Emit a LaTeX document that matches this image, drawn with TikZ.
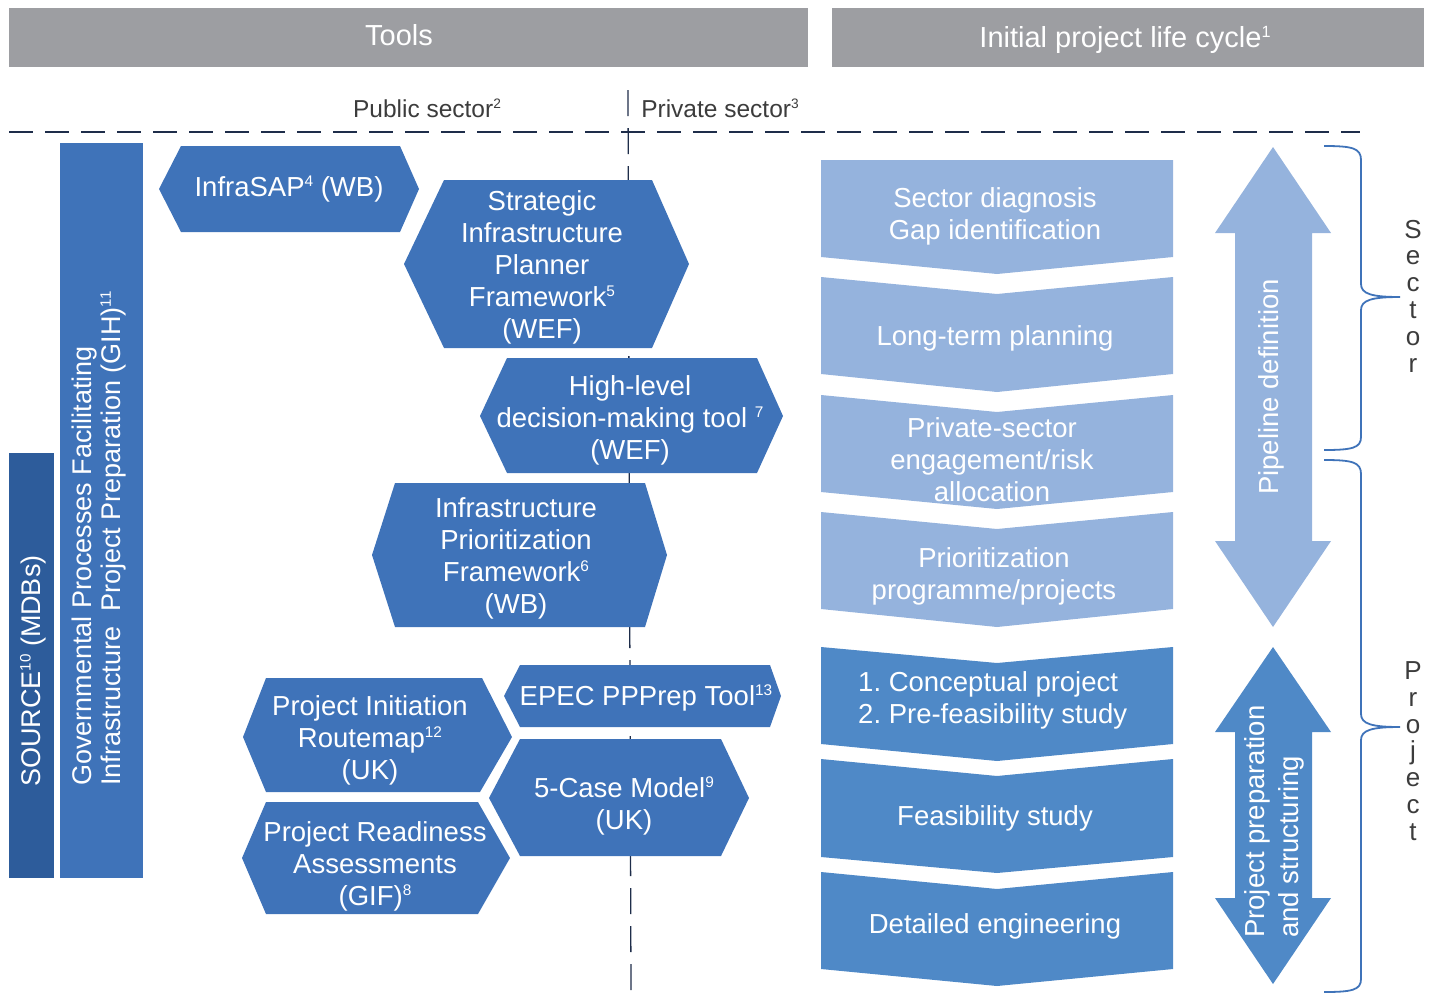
\documentclass[tikz,border=0pt]{standalone}
\usepackage{fontspec}
\setmainfont{Liberation Sans}
\definecolor{hdrgray}{HTML}{9D9EA2}
\definecolor{hexblue}{HTML}{3F73B9}
\definecolor{srcblue}{HTML}{2D5C9B}
\definecolor{lightch}{HTML}{95B3DD}
\definecolor{darkch}{HTML}{4F89C7}
\definecolor{navy}{HTML}{1E2D4A}
\definecolor{txtgray}{HTML}{3C3C3C}
\makeatletter
\newcommand\sups[1]{\raisebox{0.68ex}{\fontsize{\the\dimexpr\f@size pt*56/100\relax}{0pt}\selectfont #1}}
\makeatother
\tikzset{
  hexa/.style={fill=hexblue},
  lchev/.style={fill=lightch},
  dchev/.style={fill=darkch},
  wtext/.style={text=white, font=\fontsize{27.5}{32}\selectfont, align=center, inner sep=0pt},
  hdrtext/.style={text=white, font=\fontsize{29}{34}\selectfont, inner sep=0pt},
  gtext/.style={text=txtgray, font=\fontsize{24.5}{30}\selectfont, inner sep=0pt},
  lettertext/.style={text=txtgray, font=\fontsize{26}{26.8}\selectfont, align=center, inner sep=0pt},
  divider/.style={navy, line width=1.3pt, dash pattern=on 24pt off 12pt},
  bracestyle/.style={hexblue, line width=1.8pt},
}
\begin{document}
\begin{tikzpicture}[x=1pt,y=-1pt]
\useasboundingbox (0,0) rectangle (1437,994);

% headers
\fill[hdrgray] (9,8) rectangle (808,67);
\node[hdrtext] (tools) at (399,35) {Tools};
\fill[hdrgray] (832,8) rectangle (1424,67);
\node[hdrtext] (cycle) at (1125,40) {Initial project life cycle\sups{1}};

\node[gtext] (public) at (427,108) {Public sector\sups{2}};
\node[gtext] (private) at (720,108) {Private sector\sups{3}};

% dashed dividers
\coordinate (hL) at (9,132);
\coordinate (hR) at (1360,132);
\coordinate (vT) at (628,90);
\coordinate (vB) at (631,994);
\draw[divider] (hL) -- (hR);
\draw[divider, dash pattern=on 26pt off 12pt] (vT) -- (vB);

% left bars
\fill[srcblue] (9,453) rectangle (54,878);
\node[wtext, rotate=90, anchor=west, font=\fontsize{27}{29}\selectfont] (source) at (33,787) {SOURCE\sups{10} (MDBs)};
\fill[hexblue] (60,143) rectangle (143,878);
\node[wtext, rotate=90, anchor=west, align=left, font=\fontsize{27}{29}\selectfont] (gih) at (99,786)
  {Governmental Processes Facilitating\\Infrastructure\ \ Project Preparation (GIH)\sups{11}};

% hexagons
\fill[hexa] (159,189) -- (181,146) -- (400,146) -- (419,189) -- (400,232) -- (181,232) -- cycle;
\node[wtext] (infrasap) at (289,189) {InfraSAP\sups{4} (WB)};

\fill[hexa] (404,264) -- (444,180) -- (652,180) -- (689,264) -- (652,348) -- (444,348) -- cycle;
\node[wtext] (sipf) at (542,267) {Strategic\\Infrastructure\\Planner\\Framework\sups{5}\\(WEF)};

\fill[hexa] (480,416) -- (507,358) -- (757,358) -- (783,416) -- (757,473) -- (507,473) -- cycle;
\node[wtext] (hldm) at (630,420) {High-level\\decision-making tool \sups{7}\\(WEF)};

\fill[hexa] (372,555) -- (395,483) -- (645,483) -- (667,555) -- (645,627) -- (395,627) -- cycle;
\node[wtext] (ipf) at (516,558) {Infrastructure\\Prioritization\\Framework\sups{6}\\(WB)};

\fill[hexa] (504,696) -- (520,665) -- (770,665) -- (781,696) -- (770,727) -- (520,727) -- cycle;
\node[wtext] (epec) at (646,698) {EPEC PPPrep Tool\sups{13}};

\fill[hexa] (489,798) -- (520,739) -- (721,739) -- (749,798) -- (721,856) -- (520,856) -- cycle;
\node[wtext] (fivecase) at (624,806) {5-Case Model\sups{9}\\(UK)};

\fill[hexa] (243,737) -- (266,678) -- (482,678) -- (512,737) -- (480,792) -- (266,792) -- cycle;
\node[wtext] (pir) at (370,740) {Project Initiation\\Routemap\sups{12}\\(UK)};

\fill[hexa] (242,858) -- (266,802) -- (478,802) -- (510,858) -- (478,914) -- (266,914) -- cycle;
\node[wtext] (pra) at (375,866) {Project Readiness\\Assessments\\(GIF)\sups{8}};

% chevrons
\fill[lchev] (821,160) -- (1173,160) -- (1173,257) -- (997,274) -- (821,257) -- cycle;
\node[wtext] (c1) at (995,216) {Sector diagnosis\\Gap identification};
\fill[lchev] (821,277) -- (997,294) -- (1173,277) -- (1173,374) -- (997,392) -- (821,374) -- cycle;
\node[wtext] (c2) at (995,338) {Long-term planning};
\fill[lchev] (821,395) -- (997,412) -- (1173,395) -- (1173,492) -- (997,509) -- (821,492) -- cycle;
\node[wtext] (c3) at (992,460) {Private-sector\\engagement/risk\\allocation};
\fill[lchev] (821,512) -- (997,529) -- (1173,512) -- (1173,609) -- (997,627) -- (821,609) -- cycle;
\node[wtext] (c4) at (994,576) {Prioritization\\programme/projects};

\fill[dchev] (821,647) -- (997,663) -- (1173,647) -- (1173,744) -- (997,761) -- (821,744) -- cycle;
\node[wtext, align=left, anchor=west] (c5) at (858,700) {1.\ Conceptual project\\2.\ Pre-feasibility study};
\fill[dchev] (821,759) -- (997,776) -- (1173,759) -- (1173,857) -- (997,873) -- (821,857) -- cycle;
\node[wtext] (c6) at (995,818) {Feasibility study};
\fill[dchev] (821,872) -- (997,889) -- (1173,872) -- (1173,969) -- (997,986) -- (821,969) -- cycle;
\node[wtext] (c7) at (995,926) {Detailed engineering};

% double arrows
\fill[lchev] (1273,147) -- (1331,233) -- (1312,233) -- (1312,541) -- (1331,541) -- (1273,627)
  -- (1215,541) -- (1235,541) -- (1235,233) -- (1215,233) -- cycle;
\node[wtext, rotate=90] (pipe) at (1271,387) {Pipeline definition};
\fill[dchev] (1273,647) -- (1331,732) -- (1312,732) -- (1312,898) -- (1331,898) -- (1273,984)
  -- (1215,898) -- (1235,898) -- (1235,732) -- (1215,732) -- cycle;
\node[wtext, rotate=90, anchor=west, align=left, font=\fontsize{27.5}{34}\selectfont] (prep) at (1274,938)
  {Project preparation\\and structuring};

% braces
\draw[bracestyle] (1324,146) .. controls (1352,146) and (1361,148) .. (1361,160)
  -- (1361,284) .. controls (1361,294) and (1372,297) .. (1400,297)
  .. controls (1372,297) and (1361,300) .. (1361,310)
  -- (1361,437) .. controls (1361,448) and (1352,450) .. (1324,450);
\draw[bracestyle] (1324,460) .. controls (1352,460) and (1361,462) .. (1361,474)
  -- (1361,714) .. controls (1361,724) and (1372,727) .. (1400,727)
  .. controls (1372,727) and (1361,730) .. (1361,740)
  -- (1361,979) .. controls (1361,990) and (1352,992) .. (1324,992);

\node[lettertext] (sectorlbl) at (1413,296) {S\\e\\c\\t\\o\\r};
\node[lettertext] (projectlbl) at (1413,751) {P\\r\\o\\j\\e\\c\\t};
\end{tikzpicture}
\end{document}
